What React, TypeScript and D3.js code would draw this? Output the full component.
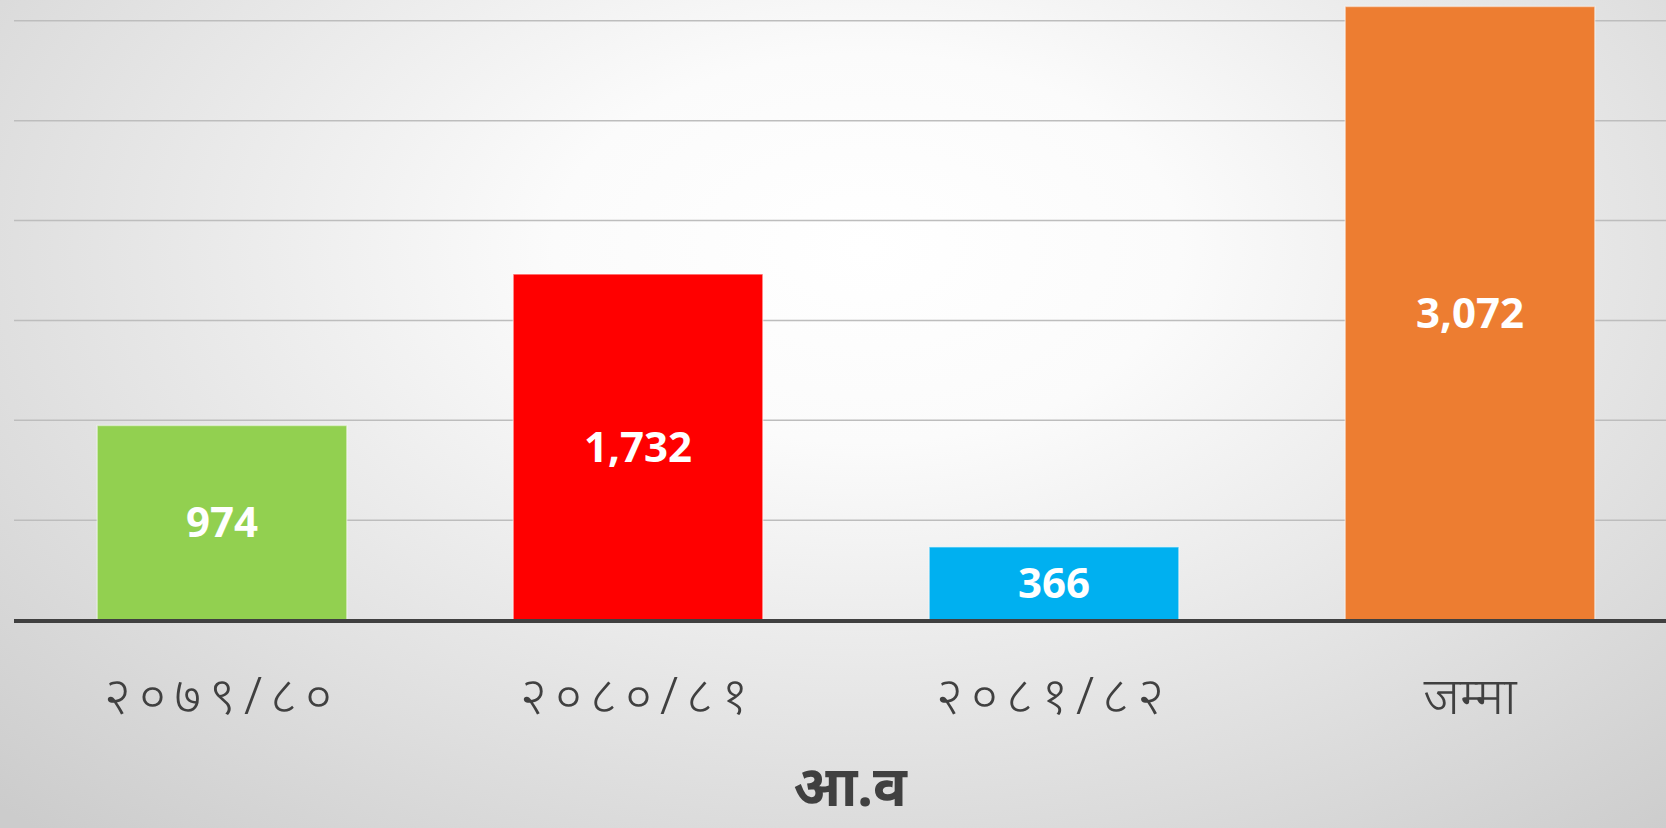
import React, { useEffect, useRef } from 'react';
import * as d3 from 'd3';

// fiscal years (Nepali calendar) + total
const categories = ['२०७९/८०', '२०८०/८१', '२०८१/८२', 'जम्मा'];
const values = [974, 1732, 366, 3072];
const barColors = ['#92d050', '#ff0000', '#00b0f0', '#ed7d31'];
const yTicks = [0, 500, 1000, 1500, 2000, 2500, 3000];
const xTitle = 'आ.व';

const App = () => {
  const ref = useRef<SVGSVGElement>(null);

  useEffect(() => {
    const svg = d3.select(ref.current);
    svg.selectAll('*').remove();

    const width = 1666;
    const height = 828;
    const margin = { left: 14, right: -12, top: -79, bottom: 208 };

    // background gradient
    const defs = svg.append('defs');
    const grad = defs.append('radialGradient')
      .attr('id', 'bg')
      .attr('cx', '52%').attr('cy', '30%').attr('r', '75%')
      .attr('gradientTransform', 'translate(0.52,0.3) scale(1,1.25) translate(-0.52,-0.3)');
    grad.append('stop').attr('offset', '0%').attr('stop-color', '#ffffff');
    grad.append('stop').attr('offset', '25%').attr('stop-color', '#fbfbfb');
    grad.append('stop').attr('offset', '100%').attr('stop-color', '#cccccc');
    svg.append('rect').attr('width', width).attr('height', height).attr('fill', 'url(#bg)');

    const x = d3.scaleBand()
      .domain(categories)
      .range([margin.left, width - margin.right])
      .paddingInner(0.4)
      .paddingOuter(0.2);

    const y = d3.scaleLinear()
      .domain([0, 3500])
      .range([height - margin.bottom, margin.top]);

    // gridlines
    svg.append('g')
      .selectAll('line')
      .data(yTicks.slice(1))
      .enter().append('line')
        .attr('x1', margin.left)
        .attr('x2', width)
        .attr('y1', d => y(d))
        .attr('y2', d => y(d))
        .attr('stroke', '#bdbdbd')
        .attr('stroke-width', 1.5);

    // bars
    svg.append('g')
      .selectAll('rect')
      .data(values)
      .enter().append('rect')
        .attr('x', (d, i) => x(categories[i])!)
        .attr('y', d => y(d))
        .attr('width', x.bandwidth())
        .attr('height', d => y(0) - y(d))
        .attr('fill', (d, i) => barColors[i])
        .attr('stroke', 'rgba(255,255,255,0.45)')
        .attr('stroke-width', 1.5);

    // value labels
    svg.append('g')
      .selectAll('text')
      .data(values)
      .enter().append('text')
        .attr('x', (d, i) => x(categories[i])! + x.bandwidth() / 2)
        .attr('y', d => (y(d) + y(0)) / 2)
        .attr('dy', '0.35em')
        .attr('text-anchor', 'middle')
        .attr('fill', '#ffffff')
        .style('font-family', '"Open Sans", sans-serif')
        .style('font-weight', 700)
        .style('font-size', '42px')
        .text(d => d3.format(',')(d));

    // baseline
    svg.append('line')
      .attr('x1', margin.left)
      .attr('x2', width)
      .attr('y1', y(0) + 1)
      .attr('y2', y(0) + 1)
      .attr('stroke', '#404040')
      .attr('stroke-width', 4);

    // x axis labels
    const xAxis = d3.axisBottom(x).tickSize(0).tickPadding(0);
    const gx = svg.append('g')
      .attr('transform', `translate(0, ${y(0)})`)
      .call(xAxis);
    gx.select('path').remove();
    gx.selectAll<SVGTextElement, string>('text')
      .attr('y', 76)
      .attr('dy', '0.35em')
      .attr('fill', '#404040')
      .style('font-family', '"Noto Sans", "Noto Sans Devanagari", sans-serif')
      .style('font-weight', 300)
      .style('font-size', '52px')
      .style('letter-spacing', d => (d.includes('/') ? '8px' : '0px'));

    // axis title
    svg.append('text')
      .attr('x', (margin.left + width - margin.right) / 2 + 4)
      .attr('y', 786)
      .attr('dy', '0.35em')
      .attr('text-anchor', 'middle')
      .attr('fill', '#404040')
      .style('font-family', '"Noto Sans", "Noto Sans Devanagari", sans-serif')
      .style('font-weight', 700)
      .style('font-size', '56px')
      .text(xTitle);
  }, []);

  return (
    <svg
      ref={ref}
      width={1666}
      height={828}
      style={{ position: 'absolute', left: 0, top: 0, display: 'block' }}
    />
  );
};

export default App;
